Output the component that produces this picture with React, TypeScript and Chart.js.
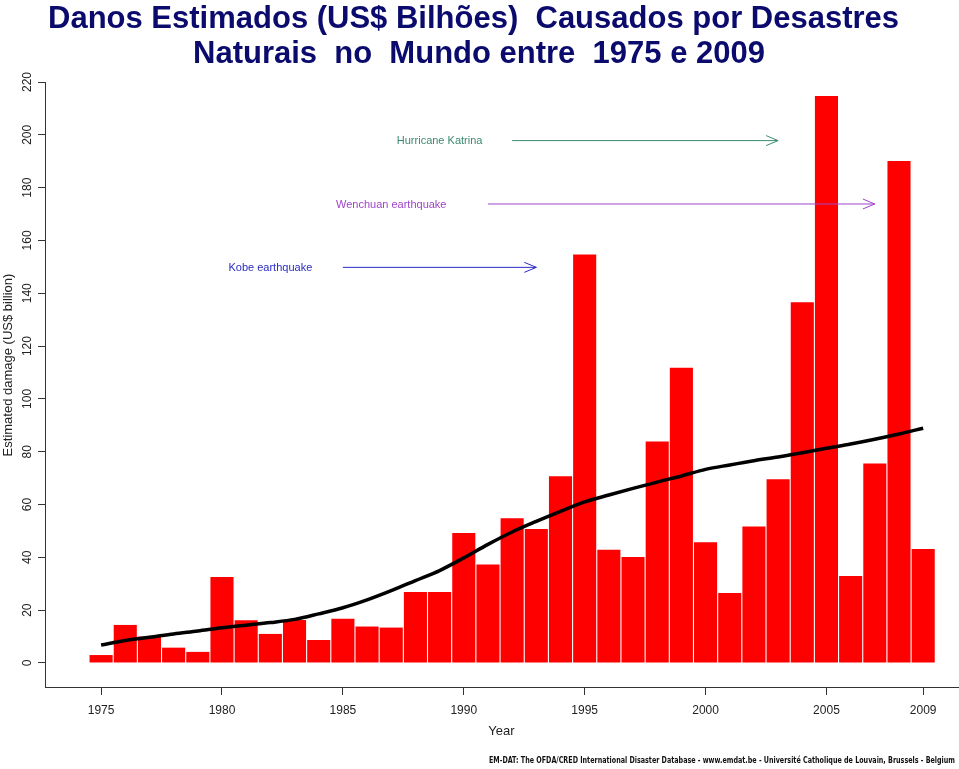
import React, { useEffect, useRef } from "react";
import { Chart, registerables } from "chart.js";

Chart.register(...registerables);

const years = [
  1975, 1976, 1977, 1978, 1979, 1980, 1981, 1982, 1983, 1984, 1985, 1986,
  1987, 1988, 1989, 1990, 1991, 1992, 1993, 1994, 1995, 1996, 1997, 1998,
  1999, 2000, 2001, 2002, 2003, 2004, 2005, 2006, 2007, 2008, 2009,
];

const damage = [
  3.0, 14.4, 10.0, 5.8, 4.2, 32.6, 16.2, 11.0, 16.3, 8.7, 16.7, 13.8, 13.4,
  26.9, 26.9, 49.2, 37.3, 54.8, 50.7, 70.7, 154.7, 42.9, 40.1, 83.9, 111.8,
  45.7, 26.5, 51.7, 69.6, 136.6, 214.7, 32.9, 75.5, 190.1, 43.2,
];

const trend = [
  6.8, 8.5, 9.7, 11.0, 12.1, 13.3, 14.3, 15.3, 16.5, 18.6, 20.9, 23.9, 27.4,
  31.2, 35.0, 39.8, 44.9, 49.6, 53.6, 57.4, 61.0, 63.6, 66.1, 68.5, 70.8, 73.3,
  75.0, 76.6, 78.0, 79.6, 81.3, 82.9, 84.7, 86.7, 88.9,
];

const xTickValues = [1975, 1980, 1985, 1990, 1995, 2000, 2005, 2009];
const yTickValues = [0, 20, 40, 60, 80, 100, 120, 140, 160, 180, 200, 220];

const annotationLabels = ["Hurricane Katrina", "Wenchuan earthquake", "Kobe earthquake"];
const annotationTextX = [1989, 1987, 1982];
const annotationY = [198, 174, 150];
const arrowFromX = [1992, 1991, 1985];
const arrowToX = [2003, 2007, 1993];
const annotationColors = ["#3b8a6e", "#a044c8", "#2a2ac4"];

const titleLines = [
  "Danos Estimados (US$ Bilhões)  Causados por Desastres",
  "Naturais  no  Mundo entre  1975 e 2009",
];
const sourceNote =
  "EM-DAT: The OFDA/CRED International Disaster Database - www.emdat.be - Université Catholique de Louvain, Brussels - Belgium";

const FONT = "'Liberation Sans', Arial, sans-serif";

const decorPlugin = {
  id: "decor",
  afterDraw(chart: any) {
    const ctx = chart.ctx as CanvasRenderingContext2D;
    const xs = chart.scales.x;
    const ys = chart.scales.y;
    const area = chart.chartArea;
    ctx.save();

    // Title
    ctx.fillStyle = "#0b0b6e";
    ctx.font = `bold 31px ${FONT}`;
    ctx.textBaseline = "alphabetic";
    ctx.textAlign = "left";
    ctx.fillText(titleLines[0], 48, 28, 892);
    ctx.fillText(titleLines[1], 193, 63, 574);

    // Y tick labels (rotated)
    ctx.fillStyle = "#222";
    ctx.font = `12px ${FONT}`;
    ctx.textAlign = "center";
    ctx.textBaseline = "middle";
    yTickValues.forEach((v) => {
      const py = ys.getPixelForValue(v);
      ctx.save();
      ctx.translate(28, py);
      ctx.rotate(-Math.PI / 2);
      ctx.fillText(String(v), 0, 0);
      ctx.restore();
    });

    // Y title
    ctx.font = `13px ${FONT}`;
    ctx.save();
    ctx.translate(8, 365);
    ctx.rotate(-Math.PI / 2);
    ctx.fillText("Estimated damage (US$ billion)", 0, 0);
    ctx.restore();

    // X tick labels
    ctx.font = `12px ${FONT}`;
    xTickValues.forEach((v) => {
      ctx.fillText(String(v), xs.getPixelForValue(v), 711);
    });

    // X title
    ctx.font = `13px ${FONT}`;
    ctx.fillText("Year", (area.left + area.right) / 2, 731);

    // Source note
    ctx.font = `bold 9px 'Liberation Sans Narrow', 'DejaVu Sans Condensed', ${FONT}`;
    ctx.textAlign = "right";
    ctx.fillStyle = "#111";
    ctx.fillText(sourceNote, 955, 761, 466);

    // Annotations
    annotationLabels.forEach((label, i) => {
      const color = annotationColors[i];
      const py = ys.getPixelForValue(annotationY[i]);
      const x1 = xs.getPixelForValue(arrowFromX[i]);
      const x2 = xs.getPixelForValue(arrowToX[i]);
      ctx.strokeStyle = color;
      ctx.fillStyle = color;
      ctx.lineWidth = 1;
      ctx.beginPath();
      ctx.moveTo(x1, py + 0.5);
      ctx.lineTo(x2, py + 0.5);
      ctx.moveTo(x2 - 12, py - 4.5);
      ctx.lineTo(x2, py + 0.5);
      ctx.lineTo(x2 - 12, py + 5.5);
      ctx.stroke();
      ctx.font = `11px ${FONT}`;
      ctx.textAlign = "center";
      ctx.textBaseline = "middle";
      ctx.fillText(label, xs.getPixelForValue(annotationTextX[i]), py + 1);
    });

    ctx.restore();
  },
};

export default function App() {
  const ref = useRef<HTMLCanvasElement | null>(null);

  useEffect(() => {
    if (!ref.current) return;
    const chart = new Chart(ref.current, {
      data: {
        datasets: [
          {
            type: "line",
            data: years.map((x, i) => ({ x, y: trend[i] })),
            borderColor: "#000",
            borderWidth: 3.5,
            pointRadius: 0,
            cubicInterpolationMode: "monotone",
            order: 0,
          } as any,
          {
            type: "bar",
            data: years.map((x, i) => ({ x, y: damage[i] })),
            backgroundColor: "#ff0000",
            borderWidth: 0,
            barPercentage: 0.955,
            categoryPercentage: 1,
            order: 1,
          } as any,
        ],
      },
      options: {
        responsive: false,
        animation: false,
        devicePixelRatio: 1,
        layout: { padding: { top: 82, right: 1, left: 0, bottom: 0 } },
        plugins: {
          legend: { display: false },
          tooltip: { enabled: false },
          title: { display: false },
        },
        scales: {
          x: {
            type: "linear",
            offset: false,
            min: 1972.68,
            max: 2010.44,
            afterFit: (s: any) => {
              s.height = 82;
            },
            afterBuildTicks: (s: any) => {
              s.ticks = xTickValues.map((value) => ({ value }));
            },
            ticks: { display: false },
            grid: {
              offset: false,
              drawOnChartArea: false,
              drawTicks: true,
              tickLength: 8,
              color: "#333",
            },
            border: { display: true, color: "#333", width: 1 },
          },
          y: {
            type: "linear",
            position: "left",
            min: -9.1,
            max: 220,
            afterFit: (s: any) => {
              s.width = 45;
            },
            afterBuildTicks: (s: any) => {
              s.ticks = yTickValues.map((value) => ({ value }));
            },
            ticks: { display: false },
            grid: {
              drawOnChartArea: false,
              drawTicks: true,
              tickLength: 7,
              color: "#333",
            },
            border: { display: true, color: "#333", width: 1 },
          },
        },
      } as any,
      plugins: [decorPlugin],
    } as any);
    return () => chart.destroy();
  }, []);

  return (
    <div style={{ position: "absolute", left: 0, top: 0, width: 959, height: 769, background: "#fff" }}>
      <canvas ref={ref} width={959} height={769} style={{ width: 959, height: 769, display: "block" }} />
    </div>
  );
}
